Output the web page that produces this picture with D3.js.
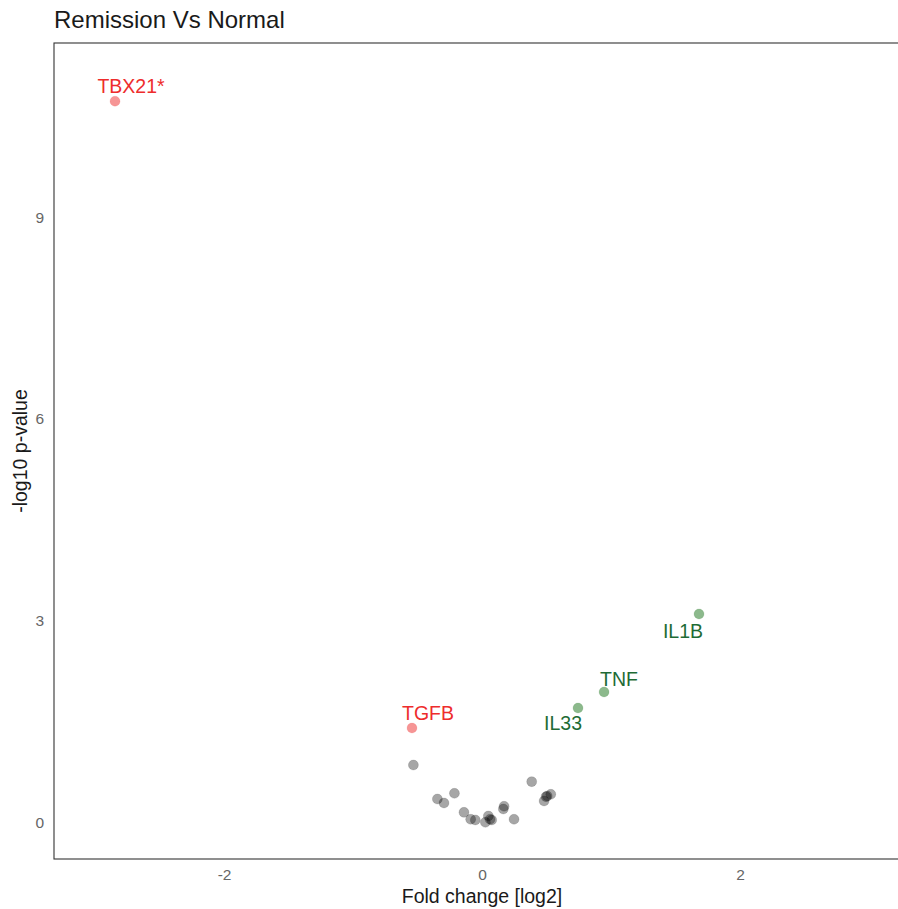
<!DOCTYPE html>
<html><head><meta charset="utf-8">
<script src="https://cdn.jsdelivr.net/npm/d3@7"></script>
<style>body{margin:0;background:#fff;overflow:hidden}svg{display:block}text{font-family:"Liberation Sans",Arial,sans-serif}</style>
</head><body>
<script>
const genes = ["TBX21*","IL1B","TNF","IL33","TGFB","g1","g2","g3","g4","g5","g6","g7","g8","g9","g10","g11","g12","g13","g14","g15","g16","g17","g18","g19"];
const foldChange = [-2.845,1.682,0.946,0.744,-0.543,-0.532,-0.346,-0.295,-0.214,-0.140,-0.088,-0.052,0.026,0.049,0.062,0.075,0.165,0.171,0.248,0.385,0.481,0.496,0.533,0.505];
const negLogP = [10.72,3.104,1.946,1.708,1.411,0.861,0.356,0.297,0.441,0.158,0.055,0.045,0.010,0.104,0.055,0.045,0.208,0.248,0.055,0.614,0.327,0.391,0.426,0.40];
const group = ["down","up","up","up","down","ns","ns","ns","ns","ns","ns","ns","ns","ns","ns","ns","ns","ns","ns","ns","ns","ns","ns","ns"];
const labelled = [true,true,true,true,true,false,false,false,false,false,false,false,false,false,false,false,false,false,false,false,false,false,false,false];
const labelNudge = [[16,-8],[-16,24],[15,-6],[-15,22],[16,-8]];
const xTicks = [-2,0,2];
const yTicks = [0,3,6,9];

const W=898,H=909;
const m={l:54,t:43,r:-2,b:50};
const svg=d3.select("body").append("svg").attr("width",W).attr("height",H);
const x=d3.scaleLinear().domain([-3.318,3.240]).range([m.l,W-m.r]);
const y=d3.scaleLinear().domain([-0.535,11.585]).range([H-m.b,m.t]);
const fill={down:"#EE2C2C",up:"#006400",ns:"#000000"};
const fillOp={down:0.5,up:0.45,ns:0.35};
const txtCol={down:"#EE2C2C",up:"#1E6B35"};

svg.append("text").attr("x",54).attr("y",28).attr("font-size",24).attr("fill","#1a1a1a").text("Remission Vs Normal");

const pts=genes.map((g,i)=>({g,x:foldChange[i],y:negLogP[i],grp:group[i],lab:labelled[i],i}));
svg.append("g").selectAll("circle").data(pts).join("circle")
 .attr("cx",d=>x(d.x)).attr("cy",d=>y(d.y)).attr("r",5)
 .attr("fill",d=>fill[d.grp]).attr("fill-opacity",d=>fillOp[d.grp])
 .attr("stroke",d=>fill[d.grp]).attr("stroke-opacity",0.15).attr("stroke-width",0.8);

svg.append("g").selectAll("text").data(pts.filter(d=>d.lab)).join("text")
 .attr("x",d=>x(d.x)+labelNudge[d.i][0]).attr("y",d=>y(d.y)+labelNudge[d.i][1])
 .attr("text-anchor","middle").attr("font-size",19.5).attr("fill",d=>txtCol[d.grp]).text(d=>d.g);

svg.append("rect").attr("x",m.l).attr("y",m.t).attr("width",W-m.r-m.l).attr("height",H-m.b-m.t)
 .attr("fill","none").attr("stroke","#333").attr("stroke-width",1.1);

const xa=svg.append("g").attr("transform",`translate(0,${H-m.b})`).call(d3.axisBottom(x).tickValues(xTicks).tickSize(0).tickPadding(10).tickFormat(d=>String(d)));
xa.select(".domain").remove();
xa.selectAll("text").attr("font-size",15.5).attr("fill","#666").style("font-family","Liberation Sans, Arial, sans-serif");
const ya=svg.append("g").attr("transform",`translate(${m.l},0)`).call(d3.axisLeft(y).tickValues(yTicks).tickSize(0).tickPadding(10).tickFormat(d=>String(d)));
ya.select(".domain").remove();
ya.selectAll("text").attr("font-size",15.5).attr("fill","#666").style("font-family","Liberation Sans, Arial, sans-serif");

svg.append("text").attr("x",482).attr("y",903).attr("text-anchor","middle").attr("font-size",19.5).attr("fill","#1a1a1a").text("Fold change [log2]");
svg.append("text").attr("transform",`translate(27,${(m.t+H-m.b)/2}) rotate(-90)`).attr("text-anchor","middle").attr("font-size",19.5).attr("fill","#1a1a1a").text("-log10 p-value");
</script>
</body></html>
